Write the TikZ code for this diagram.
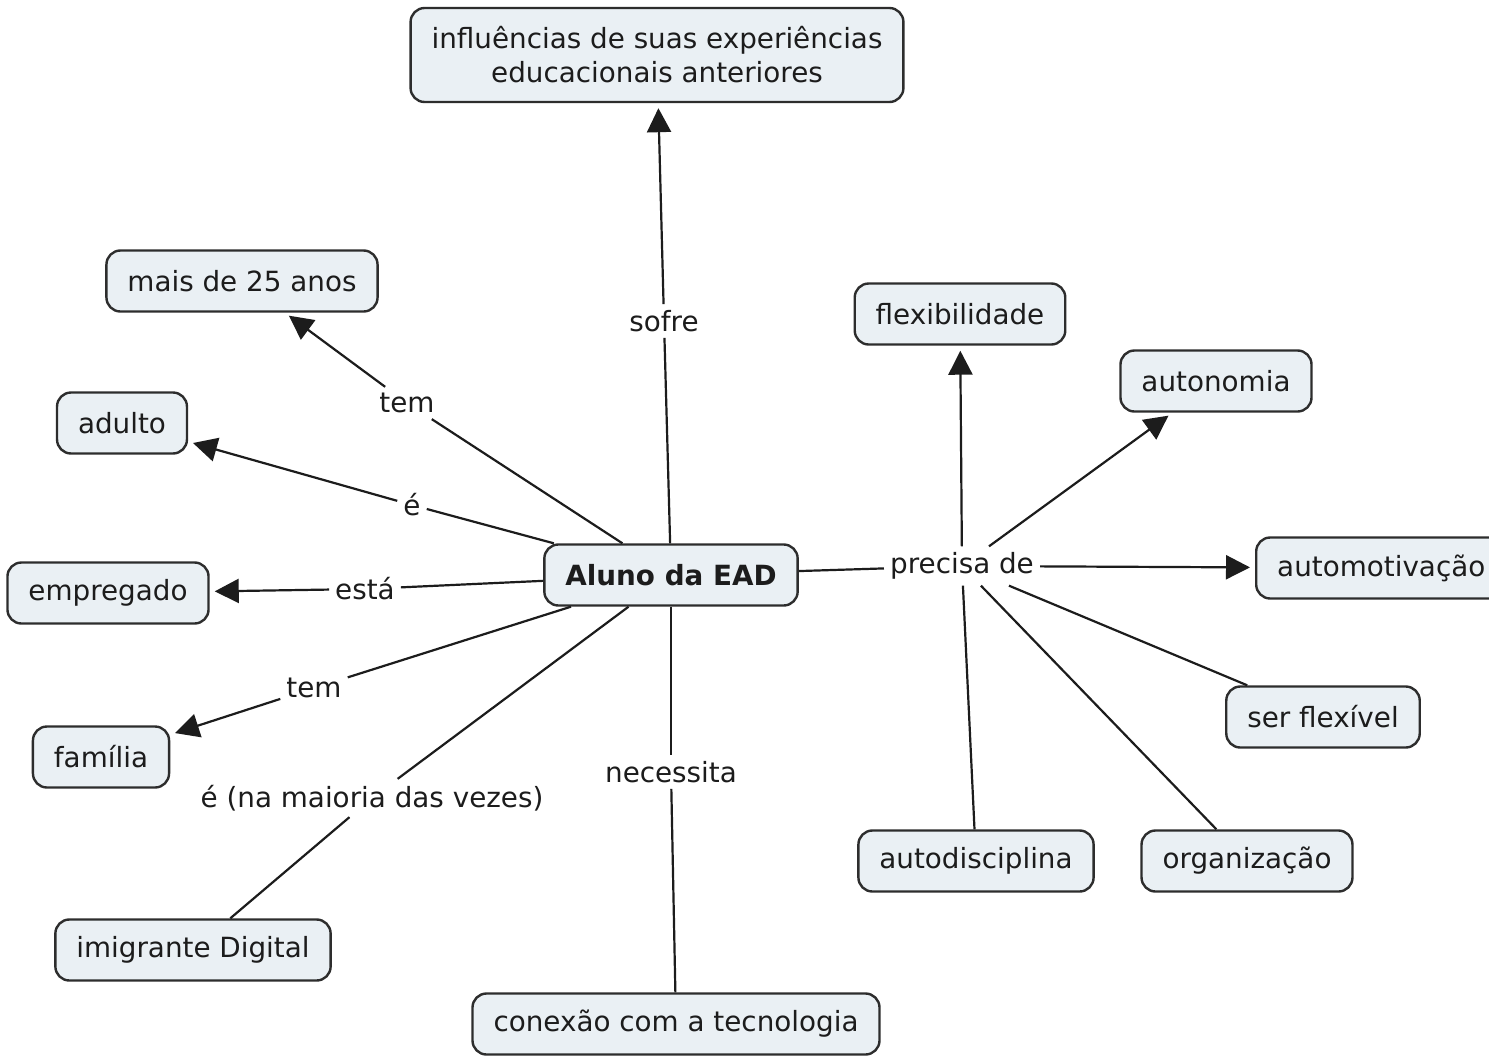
\documentclass[tikz,border=0pt]{standalone}
\usepackage{fontspec}
\setmainfont{DejaVu Sans}
\usetikzlibrary{arrows.meta}
\definecolor{boxfill}{RGB}{234,240,244}
\definecolor{boxline}{RGB}{45,45,45}
\definecolor{ink}{RGB}{28,28,28}
\tikzset{
  concept/.style={draw=boxline, line width=2.4pt, fill=boxfill, rounded corners=14pt,
    inner xsep=21pt, minimum height=61pt, text=ink, align=center},
  lbl/.style={inner sep=6pt, text=ink},
  conn/.style={draw=ink, line width=2.2pt},
  arr/.style={conn, -{Triangle[length=24pt,width=24pt]}, shorten >=5pt}
}
\begin{document}
\begin{tikzpicture}[x=1pt,y=-1pt,font=\fontsize{27.8}{34}\selectfont]
\useasboundingbox[fill=white] (0,0) rectangle (1489,1058);

% concepts
\node[concept, font=\fontsize{27.8}{34}\selectfont\bfseries] (aluno) at (671,575) {Aluno da EAD};
\node[concept, minimum height=94pt] (infl) at (657,55) {influências de suas experiências\\educacionais anteriores};
\node[concept] (mais) at (242,281) {mais de 25 anos};
\node[concept] (adulto) at (122,423) {adulto};
\node[concept] (empr) at (108,593) {empregado};
\node[concept] (fam) at (101,757) {família};
\node[concept] (imig) at (193,950) {imigrante Digital};
\node[concept] (conex) at (676,1024) {conexão com a tecnologia};
\node[concept] (flexi) at (960,314) {flexibilidade};
\node[concept] (auton) at (1216,381) {autonomia};
\node[concept, anchor=west] (automot) at (1255,568) {automotivação};
\node[concept] (serflex) at (1323,717) {ser flexível};
\node[concept] (autodis) at (976,861) {autodisciplina};
\node[concept] (organ) at (1247,861) {organização};

% link labels
\node[lbl] (sofre) at (664,321) {sofre};
\node[lbl] (tem1) at (407,403) {tem};
\node[lbl] (e1) at (412,505) {é};
\node[lbl] (esta) at (365,589) {está};
\node[lbl] (tem2) at (314,688) {tem};
\node[lbl] (e2) at (372,798) {é (na maioria das vezes)};
\node[lbl] (necess) at (671,772) {necessita};
\node[lbl] (precisa) at (962,566) {precisa de};

% connectors from Aluno
\draw[conn] (aluno) -- (sofre);
\draw[arr] (sofre) -- (infl);
\draw[conn] (aluno) -- (tem1);
\draw[arr] (tem1) -- (mais);
\draw[conn] (aluno) -- (e1);
\draw[arr] (e1) -- (adulto);
\draw[conn] (aluno) -- (esta);
\draw[arr] (esta) -- (empr);
\draw[conn] (aluno) -- (tem2);
\draw[arr] (tem2) -- (fam);
\draw[conn] (aluno) -- (e2);
\draw[conn] (e2) -- (imig);
\draw[conn] (aluno) -- (necess);
\draw[conn] (necess) -- (conex);
\draw[conn] (aluno) -- (precisa);

% from precisa de
\draw[arr] (precisa) -- (flexi);
\draw[arr] (precisa) -- (auton);
\draw[arr] (precisa) -- (automot);
\draw[conn] (precisa) -- (serflex);
\draw[conn] (precisa) -- (organ);
\draw[conn] (precisa) -- (autodis);
\end{tikzpicture}
\end{document}
